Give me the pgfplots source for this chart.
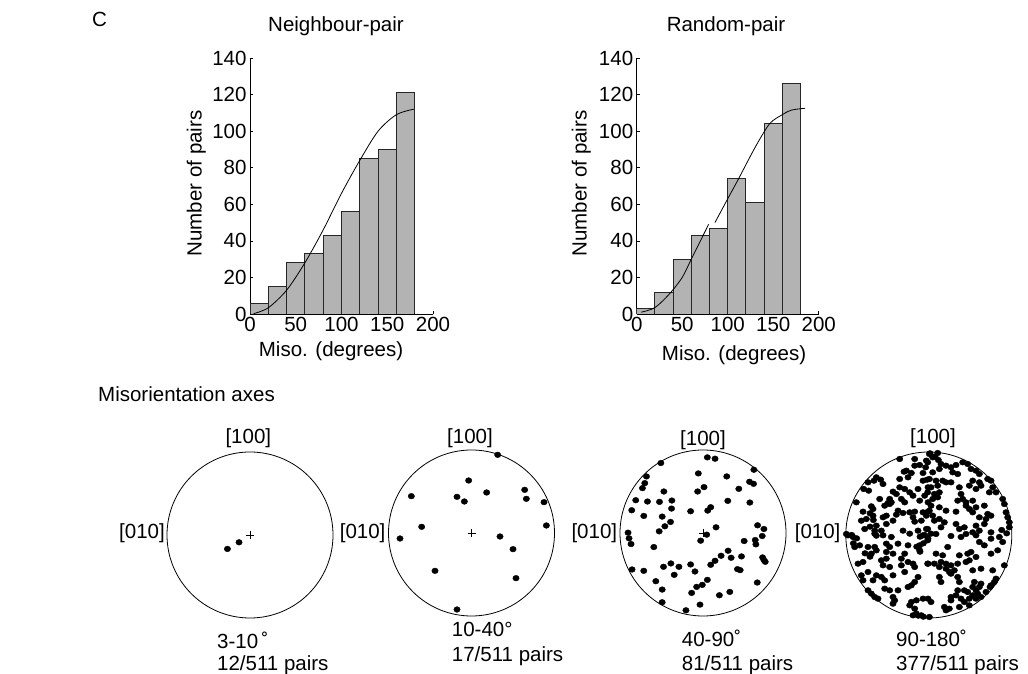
\documentclass[border=0pt]{standalone}
\usepackage{fontspec}
\setmainfont{Liberation Sans}
\usepackage{pgfplots}
\pgfplotsset{compat=1.18}

\definecolor{barfill}{RGB}{179,179,179}
\newcommand\lbl{\fontsize{20.5}{24}\selectfont}

\pgfplotsset{
  hist/.style={
    scale only axis, width=183pt, height=256pt, anchor=south west,
    xmin=0, xmax=200, ymin=0, ymax=140,
    axis lines=left, axis line style={-, line width=0.8pt},
    xtick={0,50,...,200}, ytick={0,20,...,140},
    tick align=inside, major tick length=3pt,
    tick style={black, line width=0.6pt},
    ticklabel style={font=\lbl},
    /pgf/number format/assume math mode=true,
    label style={font=\lbl},
  },
  % pole figure: limits in the pixel frame the dots were read in (y down)
  pole/.style n args={4}{
    scale only axis, width=166pt, height=166pt, anchor=center,
    hide axis, clip=false, y dir=reverse,
    xmin=#1, xmax=#2, ymin=#3, ymax=#4,
  },
  dots/.style={only marks, mark=*, mark size=2.85pt, black,
    mark options={xscale=1.12}},
  centre/.style={only marks, mark=+, mark size=4pt, black, line width=0.6pt},
}

\begin{document}
\begin{tikzpicture}
\path[use as bounding box] (0,0) rectangle (1028pt,674pt);

% ---- Neighbour-pair histogram
\begin{axis}[hist, at={(250pt,360pt)},
  xlabel={Miso. (degrees)}, ylabel={Number of pairs},
  xlabel style={at={(axis description cs:0.443,-0.167)}, anchor=base},
  ylabel style={at={(axis description cs:-0.264,0.51)}, anchor=base}]
\addplot[ybar interval, fill=barfill, draw=black!85, line width=0.9pt] coordinates {
  (0,6) (20,15) (40,28) (60,33) (80,43) (100,56) (120,85) (140,90) (160,121) (180,121)};
\addplot[black, line width=0.8pt, smooth] coordinates {
  (4,0.2) (20,3.4) (40,13) (60,28) (80,46) (100,66) (120,84) (140,100) (160,109) (179,112)};
\end{axis}

% ---- Random-pair histogram
\begin{axis}[hist, at={(636.7pt,360pt)}, width=182pt,
  xlabel={Miso. (degrees)}, ylabel={Number of pairs},
  xlabel style={at={(axis description cs:0.535,-0.182)}, anchor=base},
  ylabel style={at={(axis description cs:-0.275,0.51)}, anchor=base}]
\addplot[ybar interval, fill=barfill, draw=black!85, line width=0.9pt] coordinates {
  (0,3) (20,12) (40,30) (60,43) (80,47) (100,74) (120,61) (140,104) (160,126) (180,126)};
\addplot[black, line width=0.8pt, smooth] coordinates {
  (5,1) (20,3.5) (36,11) (50,20) (60,30) (73,43) (79,49)};
\addplot[black, line width=0.8pt, smooth] coordinates {
  (86,50) (100,63) (112,74) (130,91) (146,104) (160,109) (170,111.5) (185,112.5)};
\end{axis}

% ---- pole figures
\begin{axis}[pole={110}{610}{95}{595}, at={(250pt,139pt)}]
\draw[line width=0.8pt] (axis cs:360,345) circle[radius=83pt];
\addplot[centre] coordinates {(360,345)};
\addplot[dots] coordinates {(327,367) (292,387)};
\end{axis}

\begin{axis}[pole={-4.5}{493.5}{89.5}{587.5}, at={(471.5pt,141pt)}]
\draw[line width=0.8pt] (axis cs:244.5,338.5) circle[radius=83pt];
\addplot[centre] coordinates {(244.5,338.5)};
\addplot[dots] coordinates {
  (323,104) (236,181) (64,228) (201,230) (223,244) (290,217) (404,209) (409,236)
  (462,246) (95,320) (469,316) (30,355) (330,349) (369,387) (135,452) (378,474) (201,568)};
\end{axis}

\begin{axis}[pole={61}{557}{91}{587}, at={(703pt,141pt)}]
\draw[line width=0.8pt] (axis cs:309,339) circle[radius=83pt];
\addplot[centre] coordinates {(309,339)};
\addplot[dots] coordinates {
  (322,113) (345,117) (183,130) (461,150) (140,170) (295,161) (380,170) (135,190)
  (448,186) (460,192) (128,205) (312,202) (293,215) (192,215) (416,207) (108,241)
  (143,245) (179,246) (216,242) (383,243) (449,248) (332,262) (96,271) (215,266)
  (272,274) (323,272) (132,288) (187,290) (212,306) (195,319) (178,334) (348,322)
  (472,316) (491,327) (85,338) (88,355) (94,372) (320,344) (302,362) (486,348)
  (432,363) (465,360) (467,373) (162,381) (384,392) (363,407) (393,413) (424,409)
  (345,422) (332,434) (487,412) (491,420) (495,425) (213,430) (191,440) (237,440)
  (272,433) (97,448) (132,452) (285,454) (412,447) (420,450) (223,464) (322,479)
  (307,494) (168,483) (290,500) (187,508) (471,487) (275,518) (389,515) (358,525)
  (187,546) (300,553) (258,570)};
\end{axis}

\begin{axis}[pole={8.4}{506.4}{9}{507}, at={(928.8pt,139pt)}]
\draw[line width=0.8pt] (axis cs:257.4,258) circle[radius=83pt];
\addplot[centre] coordinates {(257.4,258)};
% read in four quarters, each offset by 249 px in the frame
\addplot[dots] coordinates {
  (170,30) (215,30) (250,35) (215,50) (248,55) (230,48) (183,68) (190,65) (205,72)
  (240,72) (100,85) (113,92) (170,90) (195,85) (75,100) (93,95) (120,105) (240,95)
  (252,92) (62,120) (77,125) (170,115) (185,120) (225,120) (255,115) (150,128)
  (160,135) (200,130) (210,140) (245,140) (110,150) (140,150) (175,150) (230,155)
  (135,162) (145,160) (185,160) (255,160) (40,160) (85,172) (90,180) (125,170)
  (140,165) (60,188) (165,185) (180,192) (200,190) (215,188) (240,190) (255,188)
  (90,200) (120,205) (130,200) (160,197) (210,205) (250,200) (55,215) (70,210)
  (100,230) (130,225) (150,215) (215,218) (235,215) (65,240) (95,245) (115,245)
  (180,245) (225,245) (250,240) (10,255) (100,260) (245,258)};
\addplot[dots, x filter/.expression={x+249}] coordinates {
  (10,15) (35,12) (20,25) (5,40) (45,45) (60,50) (75,55) (90,48) (110,40) (125,45)
  (135,60) (20,70) (40,60) (80,70) (95,75) (150,65) (160,75) (10,90) (30,95) (50,95)
  (60,100) (75,100) (140,95) (160,100) (185,90) (195,95) (15,115) (35,110) (100,115)
  (130,110) (150,120) (165,110) (200,115) (5,130) (25,135) (40,130) (105,135)
  (190,130) (210,130) (20,150) (35,145) (95,155) (110,150) (120,160) (140,155)
  (230,150) (15,170) (40,175) (120,170) (130,180) (150,175) (175,170) (235,165)
  (10,185) (60,185) (90,188) (140,190) (185,195) (240,190) (20,200) (40,210)
  (160,205) (180,210) (195,200) (245,205) (25,215) (55,220) (90,225) (150,230)
  (175,225) (250,220) (5,240) (45,235) (100,240) (115,235) (160,245) (250,235)
  (30,255) (120,255) (140,250) (195,250)};
\addplot[dots, y filter/.expression={y+249}] coordinates {
  (15,10) (30,15) (95,5) (120,10) (145,15) (200,5) (240,10) (255,20) (35,45) (50,40)
  (75,45) (95,45) (130,35) (140,45) (165,35) (195,40) (230,40) (85,65) (100,55)
  (130,60) (150,65) (185,65) (230,55) (45,95) (60,90) (115,85) (130,80) (175,80)
  (195,90) (210,95) (120,100) (140,105) (175,100) (215,105) (255,95) (55,130)
  (75,120) (100,130) (115,135) (150,130) (185,120) (225,135) (60,145) (90,145)
  (125,145) (215,150) (205,160) (75,175) (85,185) (125,170) (140,175) (165,175)
  (195,165) (95,195) (105,200) (150,195) (155,205) (150,215) (205,210) (220,205)
  (240,200) (255,200) (200,220) (215,230) (220,245) (235,250) (210,250)};
\addplot[dots, x filter/.expression={x+249}, y filter/.expression={y+249}] coordinates {
  (15,5) (75,12) (105,15) (150,10) (195,20) (220,15) (5,25) (160,30) (175,40) (230,30)
  (65,45) (30,65) (50,70) (100,70) (125,65) (135,60) (150,75) (195,65) (215,55)
  (5,95) (25,95) (45,90) (60,95) (75,100) (95,95) (120,90) (130,85) (235,100)
  (60,110) (70,120) (85,115) (40,105) (140,115) (165,110) (200,115) (40,135)
  (75,125) (95,135) (210,140) (45,150) (100,150) (145,150) (165,155) (195,160)
  (205,150) (95,175) (115,175) (140,165) (150,175) (160,165) (192,165) (15,210)
  (75,195) (90,190) (105,200) (125,180) (140,190) (155,185) (180,180) (115,210)
  (75,205) (130,200) (150,200) (165,195) (55,225) (70,230) (100,225) (130,220)
  (60,235) (10,255)};
% clumps picked up from the whole-figure crop
\addplot[dots] coordinates {
  (231,263) (241,283) (221,293) (231,308) (81,193) (91,213) (81,233) (26,258)
  (41,268) (31,283) (66,313) (81,323) (226,500) (241,503) (476,243) (491,253)
  (261,13) (276,23) (286,33)};
\end{axis}

% ---- text
\begin{scope}[every node/.style={inner sep=0pt, font=\lbl}]
\node[anchor=base west] at (92pt,647pt) {C};
\node[anchor=base] at (336pt,642.3pt) {Neighbour-pair};
\node[anchor=base] at (726pt,642.3pt) {Random-pair};
\node[anchor=base west] at (98pt,272.3pt) {Misorientation axes};

\node[anchor=base] at (248.3pt,230pt) {[100]};
\node[anchor=base] at (470pt,230pt) {[100]};
\node[anchor=base] at (703pt,228.3pt) {[100]};
\node[anchor=base] at (933pt,230.3pt) {[100]};

\node[anchor=base east] at (165pt,135.3pt) {[010]};
\node[anchor=base east] at (385.6pt,135.3pt) {[010]};
\node[anchor=base east] at (617.3pt,135.3pt) {[010]};
\node[anchor=base east] at (840.6pt,135.3pt) {[010]};

\node[anchor=base west] at (217pt,25.7pt) {3-10\,˚};
\node[anchor=base west] at (217pt,3pt) {12/511 pairs};
\node[anchor=base west] at (451.7pt,37.3pt) {10-40°};
\node[anchor=base west] at (451.7pt,12.3pt) {17/511 pairs};
\node[anchor=base west] at (681.7pt,27.3pt) {40-90˚};
\node[anchor=base west] at (681.7pt,3pt) {81/511 pairs};
\node[anchor=base west] at (896pt,27.3pt) {90-180˚};
\node[anchor=base west] at (896pt,3pt) {377/511 pairs};
\end{scope}
\end{tikzpicture}
\end{document}
